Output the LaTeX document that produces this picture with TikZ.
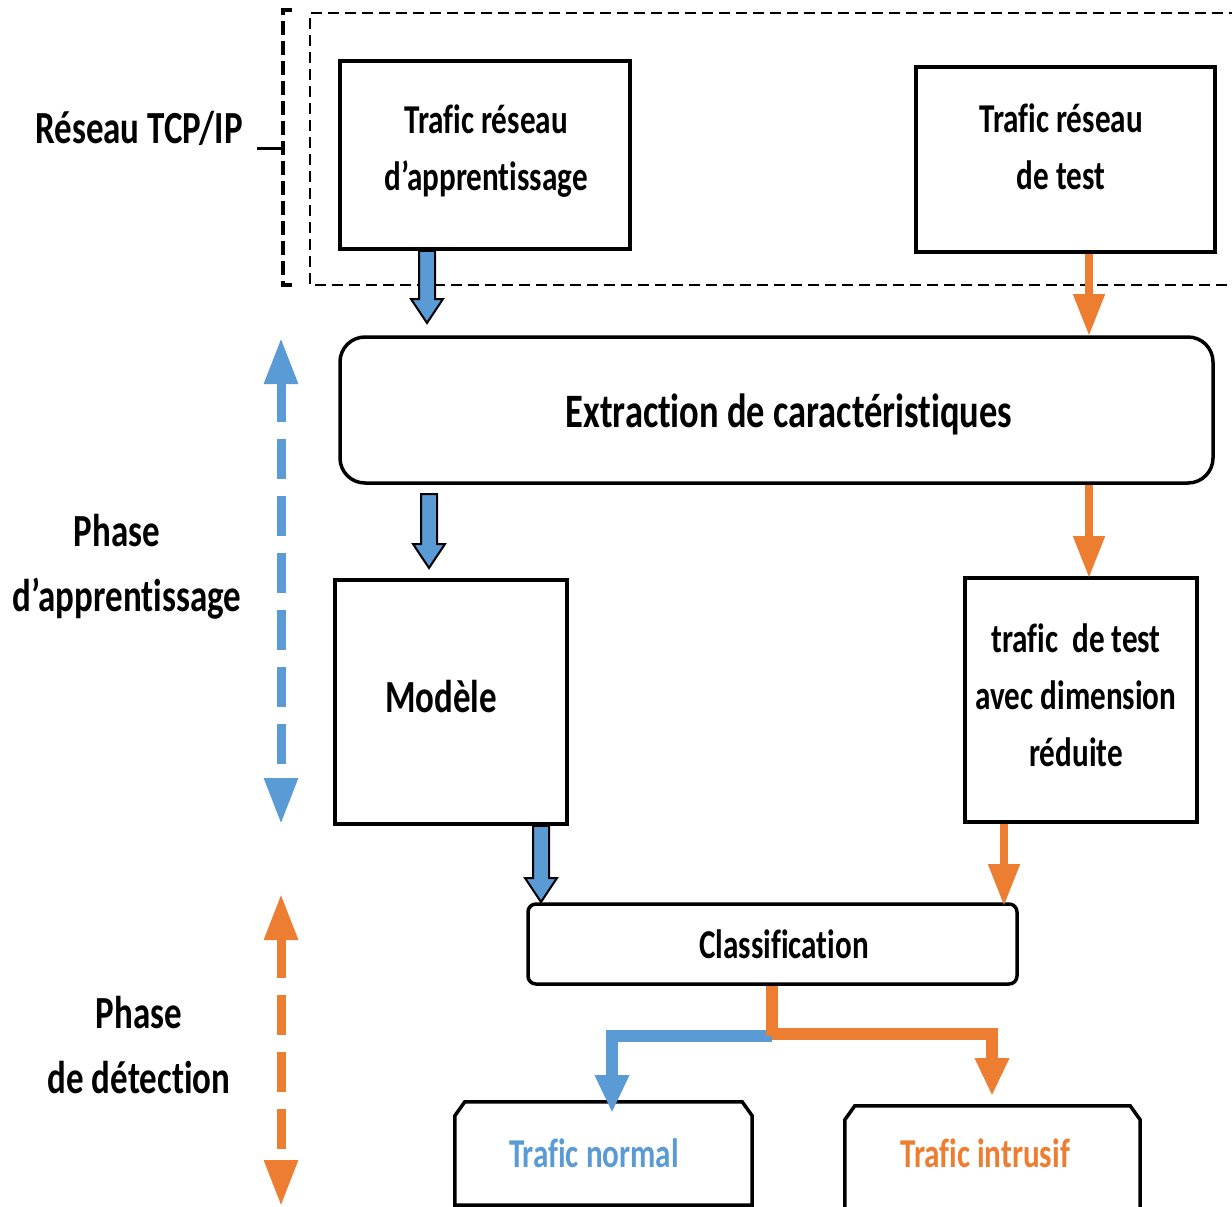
\documentclass[tikz,border=0pt]{standalone}
\usepackage{fontspec}
\setmainfont{Carlito}[FakeStretch=0.76, Ligatures=NoCommon]
\usetikzlibrary{arrows.meta,calc}
\definecolor{cblue}{HTML}{5B9BD5}
\definecolor{corange}{HTML}{ED7D31}

% Outlined blue block arrow pointing down: #1 = start, #2 = tip
\newcommand\blockdown[2]{%
  \filldraw[blockarr] ($(#1)+(-8,0)$) -- ($(#2)+(-8,-24)$) -- ($(#2)+(-16,-24)$) -- (#2)
    -- ($(#2)+(16,-24)$) -- ($(#2)+(8,-24)$) -- ($(#1)+(8,0)$) -- cycle;}

\begin{document}
\begin{tikzpicture}[x=1pt,y=-1pt,
  txt/.style={font=\fontsize{41}{57}\selectfont\bfseries, align=center, inner sep=0pt},
  bigtxt/.style={font=\fontsize{46}{65}\selectfont\bfseries, align=center, inner sep=0pt},
  rect/.style={draw, line width=3.5, inner sep=0pt},
  rrect/.style={draw, line width=3.5, inner sep=0pt, rounded corners=#1},
  blockarr/.style={fill=cblue, draw=black, line width=2, line join=miter},
  orarr/.style={draw=corange, line width=8, -{Triangle[width=30pt,length=42pt]}},
  phasearr/.style={line width=9, dash pattern=on 40pt off 17pt,
    {Triangle[width=32pt,length=46pt]}-{Triangle[width=32pt,length=46pt]}},
  outarr/.style={line width=12, line join=miter, -{Triangle[width=32pt,length=38pt]}}]
\useasboundingbox (0,0) rectangle (1232,1207);

% Dashed frame of the TCP/IP network part, with its bracket
\draw[line width=2, dash pattern=on 11pt off 6pt] (1240,13) -- (310,13) -- (310,285) -- (1240,285);
\draw[line width=3.5, dash pattern=on 14pt off 6pt] (292,10) -- (283,10) -- (283,285) -- (292,285);
\coordinate (brk) at (283,148);
\draw[line width=3] (brk) -- ++(-26,0);
\node[bigtxt] (reseau) at (139,128) {Réseau TCP/IP};

% Boxes
\node[rect, minimum width=290, minimum height=188] (ta) at (485,155) {};
\node[txt] (tat) at (486,151) {Trafic réseau\\d’apprentissage};
\node[rect, minimum width=299, minimum height=185] (tt) at (1065.5,159.5) {};
\node[txt] (ttt) at (1061,147) {Trafic réseau\\de test};

\node[rrect=25, minimum width=873, minimum height=146] (ext) at (776.5,410) {};
\node[txt, font=\fontsize{48}{57}\selectfont\bfseries] (extt) at (789,414) {Extraction de caractéristiques};

\node[rect, minimum width=232, minimum height=244] (mod) at (451,702) {};
\node[bigtxt] (modt) at (441,697) {Modèle};
\node[rect, minimum width=232, minimum height=244] (red) at (1081,700) {};
\node[txt] (redt) at (1076,695) {trafic\ \ de test\\avec dimension\\réduite};

\node[rrect=8, minimum width=489, minimum height=80] (cls) at (772.5,944) {};
\node[txt] (clst) at (784,944) {Classification};

% Result boxes with chamfered top corners
\node[minimum width=297, minimum height=103, inner sep=0pt] (nor) at (603.5,1153.5) {};
\draw[line width=3.5] (nor.south west) -- ($(nor.north west)+(0,14)$) -- ($(nor.north west)+(10,0)$)
  -- ($(nor.north east)+(-10,0)$) -- ($(nor.north east)+(0,14)$) -- (nor.south east) -- cycle;
\node[txt, text=cblue] (nort) at (594,1153) {Trafic normal};
\node[minimum width=295, minimum height=104, inner sep=0pt] (intr) at (992.5,1158) {};
\draw[line width=3.5] (intr.south west) -- ($(intr.north west)+(0,14)$) -- ($(intr.north west)+(10,0)$)
  -- ($(intr.north east)+(-10,0)$) -- ($(intr.north east)+(0,14)$) -- (intr.south east);
\node[txt, text=corange] (intrt) at (985,1153) {Trafic intrusif};

% Learning-phase flow (blue)
\coordinate (b1) at (427,323);
\blockdown{ta.south -| b1}{b1}
\coordinate (b2) at (429,568);
\coordinate (b2s) at (429,494);
\blockdown{b2s}{b2}
\coordinate (b3) at (541,902);
\blockdown{mod.south -| b3}{b3}

% Detection flow (orange)
\coordinate (o1) at (1089,336);
\draw[orarr] (tt.south -| o1) -- (o1);
\coordinate (o2) at (1089,578);
\draw[orarr] (ext.south -| o2) -- (o2);
\coordinate (o3) at (1004,906);
\draw[orarr] (red.south -| o3) -- (o3);

% Classification outputs
\coordinate (split) at (772,1036);
\draw[outarr, cblue] (split) -- (612,1036) -- (612,1113);
\draw[outarr, corange, -] (cls.south -| split) -- (split);
\draw[outarr, corange] (772,1034) -- (992,1034) -- (992,1096);

% Phase indicators
\coordinate (pa1) at (281,338);
\coordinate (pa2) at (281,824);
\draw[phasearr, cblue] (pa1) -- (pa2);
\node[bigtxt] (pat) at (127,567) {\hspace*{-20pt}Phase\\d’apprentissage};
\coordinate (pd1) at (281,894);
\coordinate (pd2) at (281,1206);
\draw[phasearr, corange] (pd1) -- (pd2);
\node[bigtxt] (pdt) at (139,1045) {Phase\\de détection};
\end{tikzpicture}
\end{document}
